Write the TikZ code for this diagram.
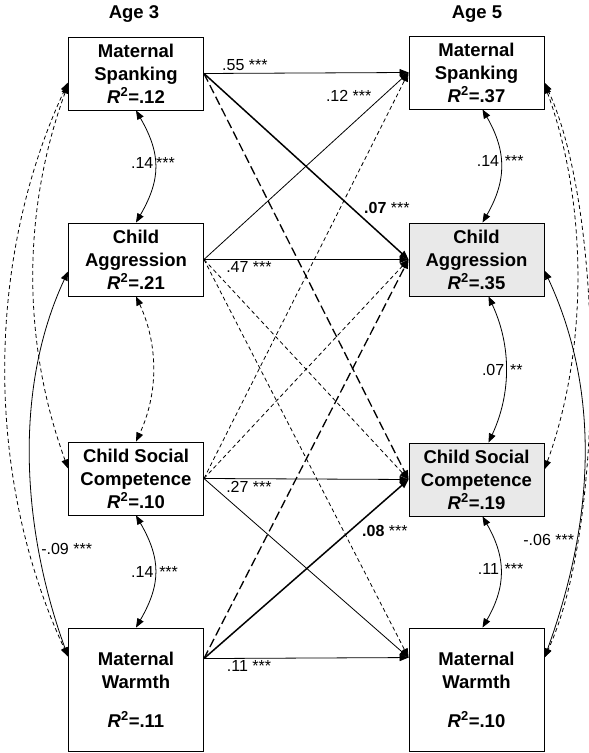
\documentclass[tikz,border=0pt]{standalone}
\usepackage{fontspec}
\setmainfont{Liberation Sans}
\usetikzlibrary{arrows.meta,calc}

\begin{document}
\begin{tikzpicture}[x=1pt,y=1pt,>={Triangle[length=9pt,width=7pt]},
box/.style={draw,line width=0.9pt,minimum width=135pt,minimum height=73pt,inner sep=0pt,align=center,font=\bfseries\fontsize{18.5}{23}\selectfont},
shaded/.style={box,fill=gray!17},
tall/.style={box,minimum height=123pt},
lbl/.style={font=\fontsize{16}{18}\selectfont,inner sep=2pt},
arr/.style={->,line width=0.8pt},
boldarr/.style={->,line width=1.5pt},
dasharr/.style={->,line width=0.8pt,dash pattern=on 4pt off 3pt},
longdash/.style={->,line width=1.3pt,dash pattern=on 9pt off 4pt},
cov/.style={<->,line width=0.8pt},
dashcov/.style={<->,line width=0.8pt,dash pattern=on 4pt off 3pt}]
\useasboundingbox (0,0) rectangle (589,753);

\node[font=\bfseries\fontsize{18.5}{22}\selectfont] (age3) at (134,739) {Age 3};
\node[font=\bfseries\fontsize{18.5}{22}\selectfont] (age5) at (477,739) {Age 5};

\node[box] (lspank) at (136,679.5) {Maternal\\Spanking\\\textit{R}\textsuperscript{2}=.12};
\node[box] (lagg) at (136,493.5) {Child\\Aggression\\\textit{R}\textsuperscript{2}=.21};
\node[box] (lsoc) at (136,274.5) {Child Social\\Competence\\\textit{R}\textsuperscript{2}=.10};
\node[tall] (lwarm) at (136,63.5) {Maternal\\Warmth\\[16pt]\textit{R}\textsuperscript{2}=.11};

\node[box] (rspank) at (476.5,680.5) {Maternal\\Spanking\\\textit{R}\textsuperscript{2}=.37};
\node[shaded] (ragg) at (476.5,493.5) {Child\\Aggression\\\textit{R}\textsuperscript{2}=.35};
\node[shaded] (rsoc) at (476.5,273.5) {Child Social\\Competence\\\textit{R}\textsuperscript{2}=.19};
\node[tall] (rwarm) at (476.5,63.5) {Maternal\\Warmth\\[16pt]\textit{R}\textsuperscript{2}=.10};

\coordinate (lwout) at ([yshift=-31pt]lwarm.north east);
\coordinate (rwin) at ([yshift=-30pt]rwarm.north west);

\draw[arr] (lspank.east) -- node[lbl,pos=0.2,above]{.55 ***} (rspank.west);
\draw[boldarr] (lspank.east) -- node[lbl,pos=0.77,above right]{\textbf{.07} ***} (ragg.west);
\draw[longdash] (lspank.east) -- (rsoc.west);
\draw[arr] (lagg.east) -- node[lbl,pos=0.83,above left]{.12 ***} (rspank.west);
\draw[arr] (lagg.east) -- node[lbl,pos=0.22,below]{.47 ***} (ragg.west);
\draw[dasharr] (lagg.east) -- (rsoc.west);
\draw[dasharr] (lagg.east) -- (rwin);
\draw[dasharr] (lsoc.east) -- (rspank.west);
\draw[dasharr] (lsoc.east) -- (ragg.west);
\draw[arr] (lsoc.east) -- node[lbl,pos=0.22,below]{.27 ***} (rsoc.west);
\draw[arr] (lsoc.east) -- (rwin);
\draw[longdash] (lwout) -- (ragg.west);
\draw[boldarr] (lwout) -- node[lbl,pos=0.76,below right]{\textbf{.08} ***} (rsoc.west);
\draw[arr] (lwout) -- node[lbl,pos=0.22,below]{.11 ***} (rwin);

\draw[cov] (lspank.south) to[out=-60,in=60,looseness=1.15] node[lbl,pos=0.47,anchor=east,inner sep=1pt]{.14} node[lbl,pos=0.47,anchor=west,inner sep=1pt]{***} (lagg.north);
\draw[dashcov] (lagg.south) to[out=-65,in=65,looseness=0.94] (lsoc.north);
\draw[cov] (lsoc.south) to[out=-60,in=60,looseness=1.15] node[lbl,pos=0.5,anchor=east,inner sep=1pt]{.14} node[lbl,pos=0.5,anchor=west,inner sep=4pt]{***} (lwarm.north);

\draw[cov] ([xshift=6pt]rspank.south) to[out=-60,in=60,looseness=1.1] node[lbl,pos=0.45,anchor=east,inner sep=1pt]{.14} node[lbl,pos=0.45,anchor=west,inner sep=4pt]{***} ([xshift=6pt]ragg.north);
\draw[cov] ([xshift=12pt]ragg.south) to[out=-65,in=65,looseness=0.95] node[lbl,pos=0.5,anchor=east,inner sep=1pt]{.07} node[lbl,pos=0.5,anchor=west,inner sep=4pt]{**} ([xshift=12pt]rsoc.north);
\draw[cov] ([xshift=6pt]rsoc.south) to[out=-60,in=60,looseness=1.1] node[lbl,pos=0.47,anchor=east,inner sep=1pt]{.11} node[lbl,pos=0.47,anchor=west,inner sep=4pt]{***} ([xshift=6pt]rwarm.north);

\draw[dashcov] ([yshift=-9pt]lspank.west) to[out=245,in=115,looseness=0.88] ([yshift=-29pt]lwarm.north west);
\draw[dashcov] ([yshift=-11pt]lspank.west) to[out=250,in=110,looseness=0.9] ([yshift=10pt]lsoc.west);
\draw[cov] ([yshift=-12pt]lagg.west) to[out=245,in=110,looseness=0.88] node[lbl,pos=0.72,anchor=west]{-.09 ***} ([yshift=-29pt]lwarm.north west);

\draw[dashcov] ([yshift=-10pt]rspank.east) to[out=-65,in=65,looseness=0.64] ([yshift=-30pt]rwarm.north east);
\draw[dashcov] ([yshift=-12pt]rspank.east) to[out=-70,in=70,looseness=0.85] ([yshift=10pt]rsoc.east);
\draw[cov] ([yshift=-11pt]ragg.east) to[out=-65,in=70,looseness=0.92] node[lbl,pos=0.7,anchor=east]{-.06 ***} ([yshift=-30pt]rwarm.north east);
\end{tikzpicture}
\end{document}
